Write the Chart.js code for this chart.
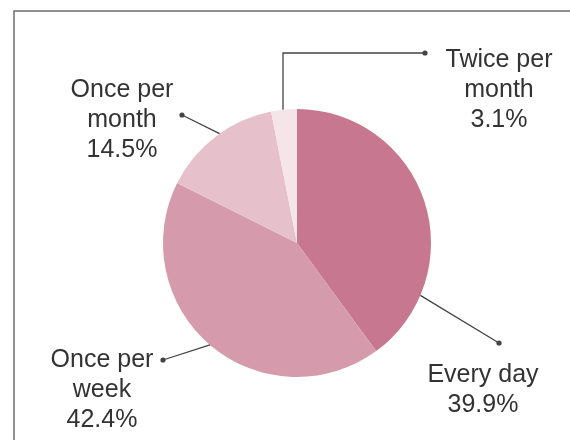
<!DOCTYPE html>
<html>
<head>
<meta charset="utf-8">
<script src="https://cdn.jsdelivr.net/npm/chart.js@4.4.0/dist/chart.umd.min.js"></script>
<style>
	html, body { margin: 0; padding: 0; background: #fff; overflow: hidden; }
	#wrap { position: relative; width: 570px; height: 440px; }
</style>
</head>
<body>
<div id="wrap"><canvas id="chart" width="570" height="440"></canvas></div>
<script>
// data
var categories = ['Every day', 'Once per week', 'Once per month', 'Twice per month'];
var shares = [39.9, 42.4, 14.5, 3.1];
var labelLines = [
	['Every day', '39.9%'],
	['Once per', 'week', '42.4%'],
	['Once per', 'month', '14.5%'],
	['Twice per', 'month', '3.1%']
];
var sliceColors = ['#c7778f', '#d59aab', '#e6c0ca', '#f5e5e9'];

// where each callout leaves the pie (degrees, clockwise from 3 o'clock) and where its text goes
var callouts = [
	{ angle: 23, dot: [202, 100], text: [186, 132], elbow: false },
	{ angle: 130.5, dot: [-134, 117], text: [-195, 117], elbow: false },
	{ angle: 234.7, dot: [-115, -128], text: [-175, -153], elbow: false },
	{ angle: -96, dot: [128, -190], text: [202, -183], elbow: true }
];

var framePlugin = {
	id: 'frame',
	beforeDraw: function(chart) {
		var ctx = chart.ctx;
		ctx.save();
		ctx.strokeStyle = '#6e6e6e';
		ctx.lineWidth = 1.5;
		ctx.beginPath();
		ctx.moveTo(14, 445);
		ctx.lineTo(14, 11);
		ctx.lineTo(575, 11);
		ctx.stroke();
		ctx.restore();
	}
};

var calloutPlugin = {
	id: 'callouts',
	afterDatasetsDraw: function(chart) {
		var ctx = chart.ctx;
		var arcs = chart.getDatasetMeta(0).data;
		var cx = arcs[0].x, cy = arcs[0].y, r = arcs[0].outerRadius;
		ctx.save();
		for (var i = 0; i < callouts.length; i++) {
			var c = callouts[i];
			var a = c.angle * Math.PI / 180;
			var sx = cx + r * Math.cos(a), sy = cy + r * Math.sin(a);
			var dx = cx + c.dot[0], dy = cy + c.dot[1];
			ctx.strokeStyle = '#444';
			ctx.lineWidth = 1.3;
			ctx.beginPath();
			ctx.moveTo(sx, sy);
			if (c.elbow) ctx.lineTo(sx, dy);
			ctx.lineTo(dx, dy);
			ctx.stroke();
			ctx.fillStyle = '#444';
			ctx.beginPath();
			ctx.arc(dx, dy, 2.6, 0, Math.PI * 2);
			ctx.fill();

			var lines = labelLines[i];
			ctx.fillStyle = '#333';
			ctx.font = '25px "Liberation Sans", Arial, sans-serif';
			ctx.textAlign = 'center';
			ctx.textBaseline = 'middle';
			for (var j = 0; j < lines.length; j++) {
				ctx.fillText(lines[j], cx + c.text[0], cy + c.text[1] + j * 30);
			}
		}
		ctx.restore();
	}
};

var ctx = document.getElementById('chart').getContext('2d');
var chart = new Chart(ctx, {
	type: 'pie',
	data: {
		labels: categories,
		datasets: [{
			data: shares,
			backgroundColor: sliceColors,
			borderWidth: 0
		}]
	},
	options: {
		responsive: false,
		animation: false,
		layout: { padding: { left: 163, right: 139, top: 109, bottom: 63 } },
		plugins: {
			legend: { display: false },
			tooltip: { enabled: false }
		}
	},
	plugins: [framePlugin, calloutPlugin]
});
</script>
</body>
</html>
